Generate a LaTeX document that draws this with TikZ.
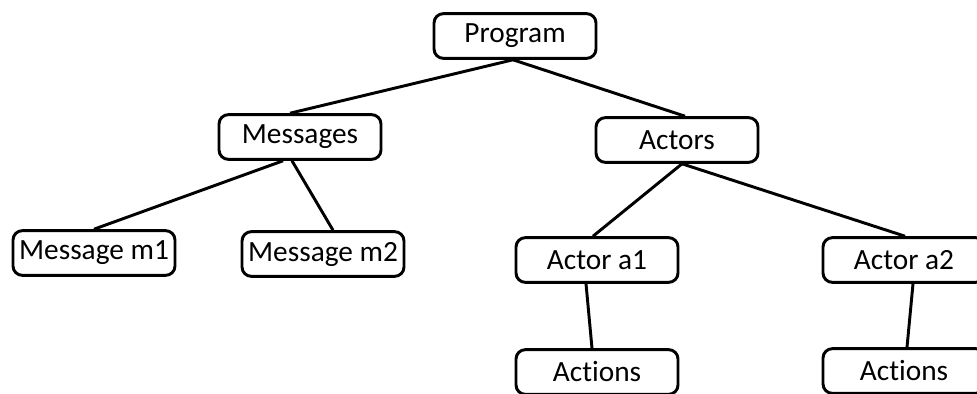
\documentclass[tikz,border=0pt]{standalone}
\usepackage{fontspec}
\setmainfont[Ligatures=NoCommon]{Carlito}
\usetikzlibrary{calc}

\begin{document}
\begin{tikzpicture}[x=0.75pt,y=0.75pt,yscale=-1,xscale=1,
    treebox/.style={draw, line width=2.2pt, rounded corners=7pt, minimum width=121.5pt, minimum height=33.5pt, inner sep=0pt, font=\fontsize{22}{26}\selectfont},
    treeline/.style={line width=2.2pt}]
        \useasboundingbox (0,0) rectangle (977,393);
        % Text Node
        \node [treebox] (prog) at (515,36) {Program};
        % Text Node
        \node [treebox] (msgs) at (300,137) {Messages};
        % Text Node
        \node [treebox] (actors) at (677,140) {Actors};
        % Text Node
        \node [treebox] (m1) at (94,253) {Message m1};
        % Text Node
        \node [treebox] (m2) at (323,254) {Message m2};
        % Text Node
        \node [treebox] (a1) at (597,260) {Actor a1};
        % Text Node
        \node [treebox] (a2) at (904,260) {Actor a2};
        % Text Node
        \node [treebox] (act1) at (597,372) {Actions};
        % Text Node
        \node [treebox] (act2) at (904,371) {Actions};
        %Straight Lines
        \draw [treeline] ($(prog.south)+(-2,0)$) -- ($(msgs.north)+(-10,0)$) ;
        \draw [treeline] ($(prog.south)+(-2,0)$) -- ($(actors.north)+(8,0)$) ;
        %Straight Lines
        \draw [treeline] ($(msgs.south)+(-17,0)$) -- (m1.north) ;
        \draw [treeline] ($(msgs.south)+(-8,0)$) -- ($(m2.north)+(10,0)$) ;
        %Straight Lines
        \draw [treeline] ($(actors.south)+(5,0)$) -- ($(a1.north)+(-4,0)$) ;
        \draw [treeline] ($(actors.south)+(5,0)$) -- ($(a2.north)+(1,0)$) ;
        %Straight Lines
        \draw [treeline] ($(a1.south)+(-11,0)$) -- ($(act1.north)+(-5,0)$) ;
        \draw [treeline] ($(a2.south)+(9,0)$) -- ($(act2.north)+(3,0)$) ;
\end{tikzpicture}
\end{document}
